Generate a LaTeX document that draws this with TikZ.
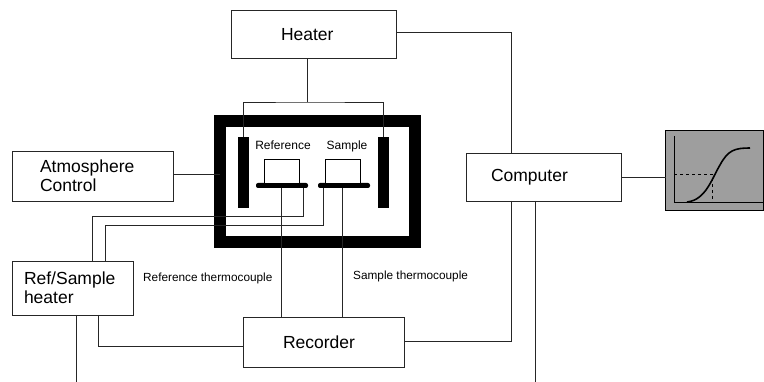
\documentclass[tikz,border=0pt]{standalone}
\usepackage{fontspec}
\setmainfont{Liberation Sans}
\begin{document}
\begin{tikzpicture}[x=1pt, y=-1pt,
    unit/.style={draw=black!85, fill=white, line width=0.8pt, inner sep=0pt, outer sep=0pt,
                 font=\fontsize{17.5}{19}\selectfont, align=left},
    solid black/.style={draw=none, fill=black, inner sep=0pt, outer sep=0pt},
    element/.style={solid black, minimum width=11pt, minimum height=71pt},
    platform/.style={solid black, rounded corners=2pt, minimum width=52pt, minimum height=5pt},
    crucible/.style={draw=black, fill=white, line width=0.7pt, inner sep=0pt, outer sep=0pt,
                     minimum width=35pt, minimum height=24pt},
    wire/.style={draw=black!85, line width=0.8pt},
    tag/.style={font=\fontsize{12}{14}\selectfont, inner sep=0pt},
    caption/.style={font=\fontsize{11.8}{14}\selectfont, inner sep=0pt}]
  \useasboundingbox (0,0) rectangle (764,382);

  % ---- free ends and corners of the wires
  \coordinate (leadjoin) at (307,102);
  \coordinate (refturn) at (303,216);
  \coordinate (sampleturn) at (323,225);
  \coordinate (outerup) at (92,216);
  \coordinate (innerup) at (105,225);
  \coordinate (heateroff) at (76,382);
  \coordinate (computeroff) at (535,382);

  % ---- the furnace, drawn first so the leads run over its wall
  \node[draw=black, fill=white, line width=12pt, inner sep=0pt, outer sep=0pt,
        minimum width=195pt, minimum height=120.5pt] (furnace) at (317.8,181.5) {};
  \node[element] (leftel) at (243.5,172.5) {};
  \node[element] (rightel) at (383.5,172.5) {};
  \node[platform] (refpan) at (282,185.5) {};
  \node[platform] (samplepan) at (344,185.5) {};
  \node[crucible, anchor=south] (refcup) at (281.5,183) {};
  \node[crucible, anchor=south] (samplecup) at (342.5,183) {};
  \node[tag] (reflabel) at (283,145) {Reference};
  \node[tag] (samplelabel) at (347,146) {Sample};

  % ---- the boxes round it
  \node[unit, minimum width=165pt, minimum height=48pt, inner xsep=50pt, text width=65pt]
    (heater) at (313.5,34.5) {Heater};
  \node[unit, minimum width=161pt, minimum height=50pt, inner xsep=28pt, text width=105pt]
    (atmosphere) at (92.5,176) {Atmosphere\\Control};
  \node[unit, minimum width=121pt, minimum height=54pt, inner xsep=12pt, text width=97pt]
    (refheater) at (72.5,288) {Ref/Sample\\heater};
  \node[unit, minimum width=161pt, minimum height=50pt, inner xsep=40pt, text width=81pt]
    (recorder) at (323.5,342) {Recorder};
  \node[unit, minimum width=155pt, minimum height=48pt, inner xsep=25pt, text width=105pt]
    (computer) at (543.5,177) {Computer};

  % ---- heater leads
  \draw[wire] (heater.south -| leadjoin) -- (leadjoin);
  \draw[wire] (leftel.north) |- (leadjoin) -| (rightel.north);
  \draw[wire] (heater.east |- 0,32) -| (computer.north -| 511,0);

  % ---- atmosphere, computer and recorder
  \draw[wire] (atmosphere.east |- 0,174) -- (furnace.west |- 0,174);
  \draw[wire] (computer.south -| 511,0) |- (recorder.east |- 0,341);
  \draw[wire] (computer.south -| computeroff) -- (computeroff);
  \draw[wire] (refheater.south -| 98,0) |- (recorder.west |- 0,346);
  \draw[wire] (refheater.south -| heateroff) -- (heateroff);

  % ---- pan heater wires and the thermocouples
  \draw[wire] (refheater.north -| outerup) -- (outerup) -- (refturn) -- (refpan.south -| refturn);
  \draw[wire] (refheater.north -| innerup) -- (innerup) -- (sampleturn) -- (samplepan.south -| sampleturn);
  \draw[wire] (refpan.south -| 281,0) -- (recorder.north -| 281,0);
  \draw[wire] (samplepan.south -| 342,0) -- (recorder.north -| 342,0);
  \node[caption, anchor=west] (refcaption) at (143,278) {Reference thermocouple};
  \node[caption, anchor=west] (samplecaption) at (353,276) {Sample thermocouple};

  % ---- the plot on the right
  \node[draw=black, fill=black!38, line width=1.5pt, inner sep=0pt, outer sep=0pt,
        minimum width=98pt, minimum height=80pt] (plot) at (714.5,170.5) {};
  \draw[wire] (computer.east) -- (computer.east -| plot.west);
  \draw[black, line width=0.9pt] (674,136) -- (674,202) -- (763,202);
  \draw[black, line width=1.6pt] (687,202) .. controls (706,200) and (712,178) .. (720,165)
    .. controls (728,150) and (735,148) .. (750,148);
  \draw[black, line width=0.9pt, dashed] (674,174) -- (712,174) -- (712,202);
\end{tikzpicture}
\end{document}
